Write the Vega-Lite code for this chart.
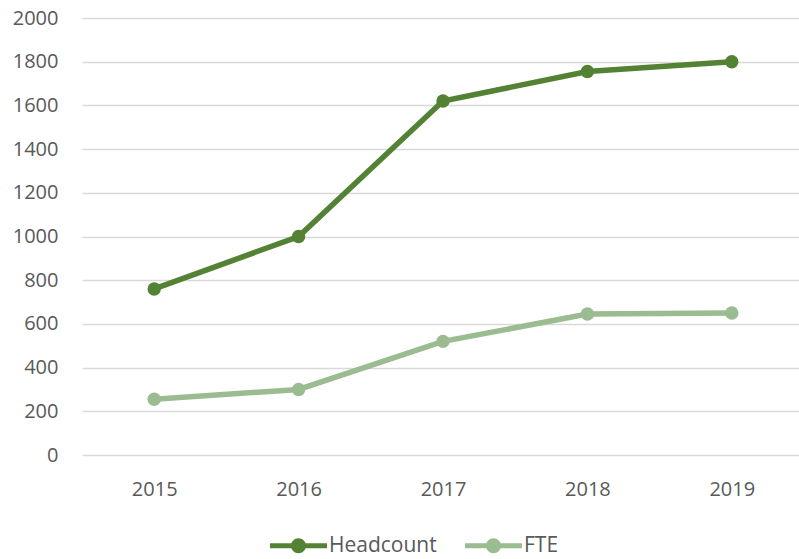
{
  "$schema": "https://vega.github.io/schema/vega-lite/v6.json",
  "autosize": {"type": "none"},
  "width": 722,
  "height": 437,
  "padding": {"left": 82, "top": 18, "right": 0, "bottom": 104},
  "background": "white",
  "config": {
    "view": {"stroke": null},
    "font": "Open Sans",
    "axis": {"labelFont": "Open Sans", "labelColor": "#595959", "labelFontSize": 20, "title": null}
  },
  "data": {
    "values": [
      {"year": "2015", "series": "Headcount", "value": 760},
      {"year": "2016", "series": "Headcount", "value": 1000},
      {"year": "2017", "series": "Headcount", "value": 1620},
      {"year": "2018", "series": "Headcount", "value": 1755},
      {"year": "2019", "series": "Headcount", "value": 1800},
      {"year": "2015", "series": "FTE", "value": 255},
      {"year": "2016", "series": "FTE", "value": 300},
      {"year": "2017", "series": "FTE", "value": 520},
      {"year": "2018", "series": "FTE", "value": 645},
      {"year": "2019", "series": "FTE", "value": 650}
    ]
  },
  "encoding": {
    "x": {
      "field": "year", "type": "ordinal",
      "scale": {"type": "point", "padding": 0.5},
      "axis": {"labelAngle": 0, "domain": false, "ticks": false, "grid": false, "labelPadding": 24}
    },
    "y": {
      "field": "value", "type": "quantitative",
      "scale": {"domain": [0, 2000], "nice": false},
      "axis": {"values": [0,200,400,600,800,1000,1200,1400,1600,1800,2000], "format": "d", "domain": false, "ticks": false, "grid": true, "gridColor": "#d9d9d9", "gridWidth": 1.5, "labelPadding": 24}
    },
    "color": {
      "field": "series", "type": "nominal",
      "scale": {"domain": ["Headcount", "FTE"], "range": ["#548235", "#9bbb91"]},
      "legend": {
        "title": null,
        "orient": "none",
        "legendX": 188,
        "legendY": 499,
        "direction": "horizontal",
        "symbolType": "M-1,-0.088H1V0.088H-1Z M-0.263,0A0.263,0.263 0 1,1 0.263,0A0.263,0.263 0 1,1 -0.263,0Z",
        "symbolSize": 3249,
        "symbolStrokeWidth": 0,
        "labelFont": "Open Sans",
        "labelFontSize": 21,
        "labelColor": "#595959",
        "labelOffset": 2,
        "columnPadding": 28,
        "encode": {"symbols": {"update": {"fill": {"scale": "color", "field": "value"}, "fillOpacity": {"value": 1}, "strokeWidth": {"value": 0}}}}
      }
    }
  },
  "layer": [
    {"mark": {"type": "line", "strokeWidth": 5.5}},
    {"mark": {"type": "point", "filled": true, "size": 180, "opacity": 1}}
  ]
}
